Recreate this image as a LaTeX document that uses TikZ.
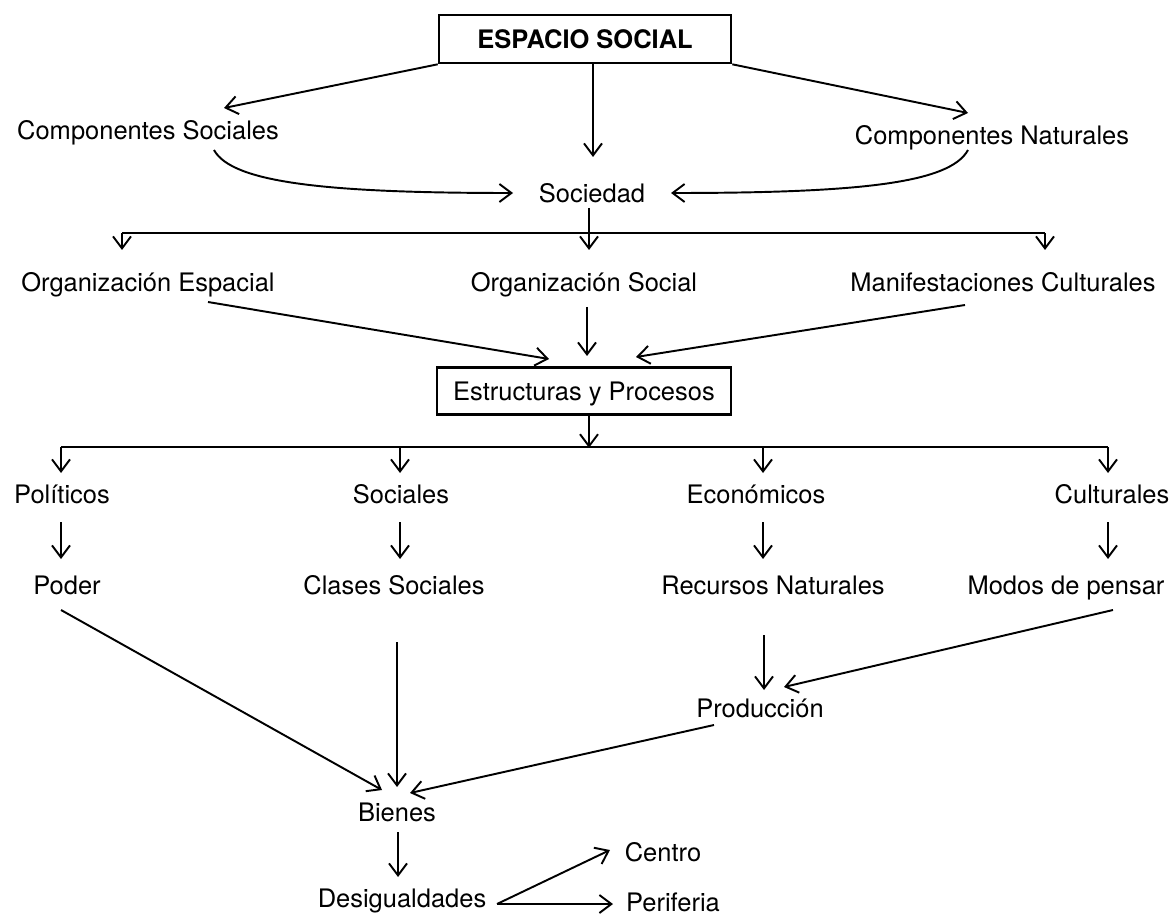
\documentclass[tikz,border=0pt]{standalone}
\usepackage{fontspec}
\setmainfont{TeX Gyre Heros}
\usepackage{tikz}
\usetikzlibrary{arrows.meta, calc}
\tikzset{
    >={Straight Barb[length=2.4mm, width=3.6mm]},
    term/.style={inner sep=0pt, text height=13.4pt, text depth=3pt,
        font=\fontsize{14.5pt}{17pt}\selectfont},
    framed/.style={term, draw, line width=1.5pt, minimum width=5.84cm, minimum height=0.96cm},
    link/.style={line width=1.1pt},
    flow/.style={link, ->},
}

\begin{document}
\begin{tikzpicture}[x=0.02cm, y=-0.02cm]
        \useasboundingbox (0,0) rectangle (1173,915);
        % boxes
        \node[framed, font=\fontsize{14.5pt}{17pt}\selectfont\bfseries] (espacio) at (585,39) {ESPACIO SOCIAL};
        \node[framed, minimum width=5.88cm, minimum height=0.94cm] (estruct) at (584,391) {Estructuras y Procesos};
        % plain terms
        \node[term] (compsoc) at (148,130) {Componentes Sociales};
        \node[term] (compnat) at (992,135) {Componentes Naturales};
        \node[term] (sociedad) at (592,193) {Sociedad};
        \node[term] (orgesp) at (148,282) {Organización Espacial};
        \node[term] (orgsoc) at (584,282) {Organización Social};
        \node[term] (manif) at (1003,282) {Manifestaciones Culturales};
        \node[term] (politicos) at (62,494) {Políticos};
        \node[term] (sociales) at (401,494) {Sociales};
        \node[term] (economicos) at (756,494) {Económicos};
        \node[term] (culturales) at (1112,494) {Culturales};
        \node[term] (poder) at (67,585) {Poder};
        \node[term] (clases) at (394,585) {Clases Sociales};
        \node[term] (recursos) at (773,585) {Recursos Naturales};
        \node[term] (modos) at (1066,585) {Modos de pensar};
        \node[term] (produccion) at (760,708) {Producción};
        \node[term] (bienes) at (397,812) {Bienes};
        \node[term] (desig) at (402,898) {Desigualdades};
        \node[term] (centro) at (663,852) {Centro};
        \node[term] (periferia) at (673,902) {Periferia};
        % espacio social
        \draw[flow] (espacio.south west) -- ($(compsoc)+(76,-22)$);
        \draw[flow] ($(espacio.south)+(8,0)$) -- ($(sociedad)+(1,-36)$);
        \draw[flow] (espacio.south east) -- ($(compnat)+(-24,-22)$);
        \draw[flow] ($(compsoc)+(66,20)$) .. controls +(18,33) and +(-185,0) .. ($(sociedad)+(-79,0)$);
        \draw[flow] ($(compnat)+(-24,15)$) .. controls +(-18,33) and +(190,0) .. ($(sociedad)+(79,0)$);
        % sociedad
        \draw[link] ($(sociedad)+(-3,15)$) -- ($(orgsoc)+(5,-49)$);
        \draw[link] ($(orgesp)+(-26,-49)$) -- ($(manif)+(42,-49)$);
        \foreach \n/\dx in {orgesp/-26, orgsoc/5, manif/42}
            \draw[flow] ($(\n)+(\dx,-49)$) -- ($(\n)+(\dx,-32)$);
        \draw[flow] ($(orgesp)+(60,20)$) -- ($(estruct)+(-35,-32)$);
        \draw[flow] ($(orgsoc)+(3,25)$) -- ($(estruct)+(3,-35)$);
        \draw[flow] ($(manif)+(-38,23)$) -- ($(estruct)+(52,-34)$);
        % estructuras y procesos
        \draw[flow] ($(estruct.south)+(5,0)$) -- ($(estruct.south)+(5,32)$);
        \draw[link] ($(politicos)+(-1,-47)$) -- ($(culturales)+(-4,-47)$);
        \foreach \n/\dx in {politicos/-1, sociales/-1, economicos/7, culturales/-4}
            \draw[flow] ($(\n)+(\dx,-47)$) -- ($(\n)+(\dx,-21)$);
        \foreach \a/\b/\da/\db in {politicos/poder/-1/-6, sociales/clases/-1/6,
                economicos/recursos/7/-10, culturales/modos/-4/42}
            \draw[flow] ($(\a)+(\da,28)$) -- ($(\b)+(\db,-26)$);
        % bienes
        \draw[flow] ($(poder)+(-6,25)$) -- ($(bienes)+(-15,-22)$);
        \draw[flow] ($(clases)+(3,57)$) -- ($(bienes)+(0,-25)$);
        \draw[flow] ($(recursos)+(-9,50)$) -- ($(produccion)+(4,-18)$);
        \draw[flow] ($(modos)+(47,25)$) -- ($(produccion)+(24,-21)$);
        \draw[flow] ($(produccion)+(-46,17)$) -- ($(bienes)+(13,-19)$);
        \draw[flow] ($(bienes)+(1,20)$) -- ($(desig)+(-4,-21)$);
        \draw[flow] ($(desig)+(95,6)$) -- ($(centro)+(-53,-2)$);
        \draw[flow] ($(desig)+(95,6)$) -- ($(periferia)+(-60,2)$);
\end{tikzpicture}
\end{document}
